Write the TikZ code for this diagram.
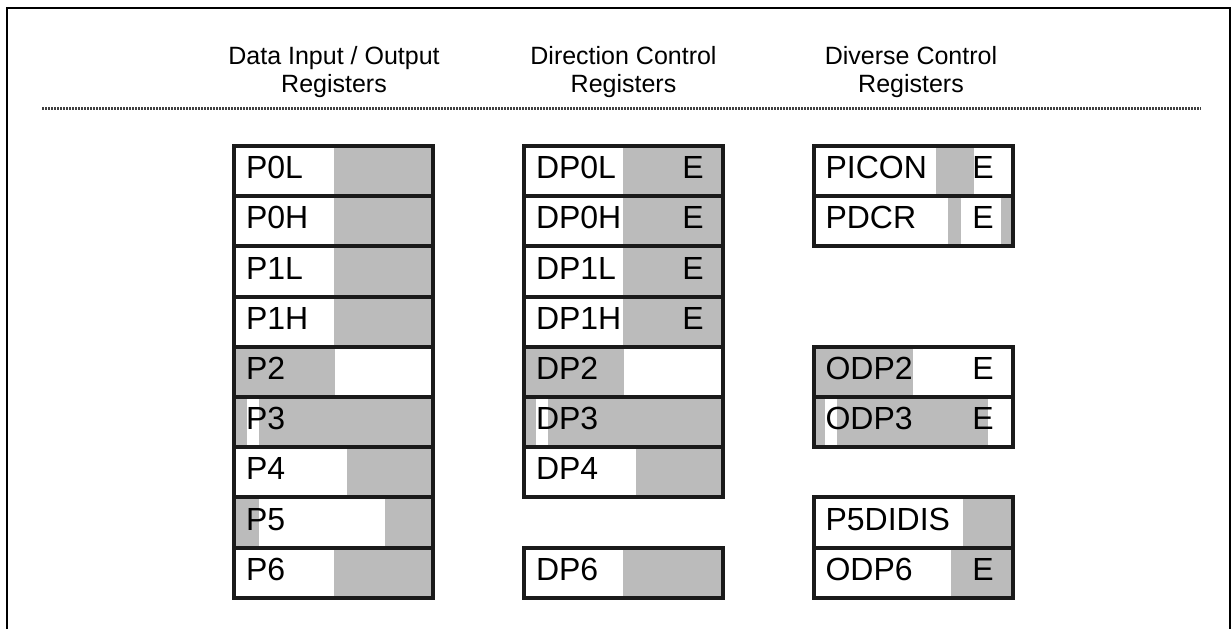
\documentclass[tikz,border=0pt]{standalone}
\usepackage{fontspec}
\setmainfont{Liberation Sans}
\usetikzlibrary{positioning}
\definecolor{reggray}{RGB}{187,187,187}
\definecolor{regline}{RGB}{26,26,26}
\tikzstyle{regrow}=[draw=regline,line width=2pt,outer sep=0pt,anchor=north west,
  inner xsep=6pt,inner ysep=0pt,text width=87.5pt,align=left,minimum height=25.1pt,
  text depth=3.5pt,font=\fontsize{16}{19}\selectfont]
\tikzstyle{ebit}=[anchor=east,inner sep=0pt,text depth=3.5pt,font=\fontsize{16}{19}\selectfont]
\tikzstyle{header}=[align=center,inner sep=0pt,font=\fontsize{12.5}{14}\selectfont]

\begin{document}
\begin{tikzpicture}[x=0.5pt,y=-0.5pt]
    \useasboundingbox (0,0) rectangle (1231,629);
    \draw[line width=1pt] (7,629) -- (7,7.5) -- (1229.5,7.5) -- (1229.5,629);

    \node[header] (hdrIO)  at (334,72) {Data Input / Output\\Registers};
    \node[header] (hdrDir) at (623.5,72) {Direction Control\\Registers};
    \node[header] (hdrDiv) at (911,72)   {Diverse Control\\Registers};
    \draw[black!75,line width=1.5pt,dash pattern=on 1pt off 0.5pt] (42,108) -- (1201,108);

    % shaded bit fields
    \fill[reggray] (334,146) rectangle (433,346.8);
    \fill[reggray] (234,346.8) rectangle (335,397);
    \fill[reggray] (234,397) rectangle (247,447.2);
    \fill[reggray] (259,397) rectangle (433,447.2);
    \fill[reggray] (347,447.2) rectangle (433,497.4);
    \fill[reggray] (234,497.4) rectangle (259,547.6);
    \fill[reggray] (385,497.4) rectangle (433,547.6);
    \fill[reggray] (334,547.6) rectangle (433,597.8);

    \fill[reggray] (623,146) rectangle (723,346.8);
    \fill[reggray] (524,346.8) rectangle (624,397);
    \fill[reggray] (524,397) rectangle (536,447.2);
    \fill[reggray] (548,397) rectangle (723,447.2);
    \fill[reggray] (636,447.2) rectangle (723,497.4);
    \fill[reggray] (623,547.6) rectangle (723,597.8);

    \fill[reggray] (936,146) rectangle (974,196.2);
    \fill[reggray] (948,196.2) rectangle (961,246.4);
    \fill[reggray] (1001,196.2) rectangle (1013,246.4);
    \fill[reggray] (813.5,346.8) rectangle (913,397);
    \fill[reggray] (813.5,397) rectangle (825,447.2);
    \fill[reggray] (837,397) rectangle (988,447.2);
    \fill[reggray] (963,497.4) rectangle (1013,547.6);
    \fill[reggray] (951,547.6) rectangle (1013,597.8);

    % data registers
    \node[regrow] (P0L) at (234,146)   {P0L};
    \node[regrow] (P0H) at (234,196.2) {P0H};
    \node[regrow] (P1L) at (234,246.4) {P1L};
    \node[regrow] (P1H) at (234,296.6) {P1H};
    \node[regrow] (P2)  at (234,346.8) {P2};
    \node[regrow] (P3)  at (234,397)   {P3};
    \node[regrow] (P4)  at (234,447.2) {P4};
    \node[regrow] (P5)  at (234,497.4) {P5};
    \node[regrow] (P6)  at (234,547.6) {P6};

    % direction registers
    \node[regrow] (DP0L) at (524,146)   {DP0L};
    \node[regrow] (DP0H) at (524,196.2) {DP0H};
    \node[regrow] (DP1L) at (524,246.4) {DP1L};
    \node[regrow] (DP1H) at (524,296.6) {DP1H};
    \node[regrow] (DP2)  at (524,346.8) {DP2};
    \node[regrow] (DP3)  at (524,397)   {DP3};
    \node[regrow] (DP4)  at (524,447.2) {DP4};
    \node[regrow] (DP6)  at (524,547.6) {DP6};

    % diverse registers
    \node[regrow] (PICON)   at (813.5,146)   {PICON};
    \node[regrow] (PDCR)    at (813.5,196.2) {PDCR};
    \node[regrow] (ODP2)    at (813.5,346.8) {ODP2};
    \node[regrow] (ODP3)    at (813.5,397)   {ODP3};
    \node[regrow] (P5DIDIS) at (813.5,497.4) {P5DIDIS};
    \node[regrow] (ODP6)    at (813.5,547.6) {ODP6};

    \node[ebit] (eDP0L) at (704,171.1) {E};
    \node[ebit] (eDP0H) at (704,221.3) {E};
    \node[ebit] (eDP1L) at (704,271.5) {E};
    \node[ebit] (eDP1H) at (704,321.7) {E};
    \node[ebit] (ePICON) at (994,171.1) {E};
    \node[ebit] (ePDCR)  at (994,221.3) {E};
    \node[ebit] (eODP2)  at (994,371.9) {E};
    \node[ebit] (eODP3)  at (994,422.1) {E};
    \node[ebit] (eODP6)  at (994,572.7) {E};

\end{tikzpicture}
\end{document}
